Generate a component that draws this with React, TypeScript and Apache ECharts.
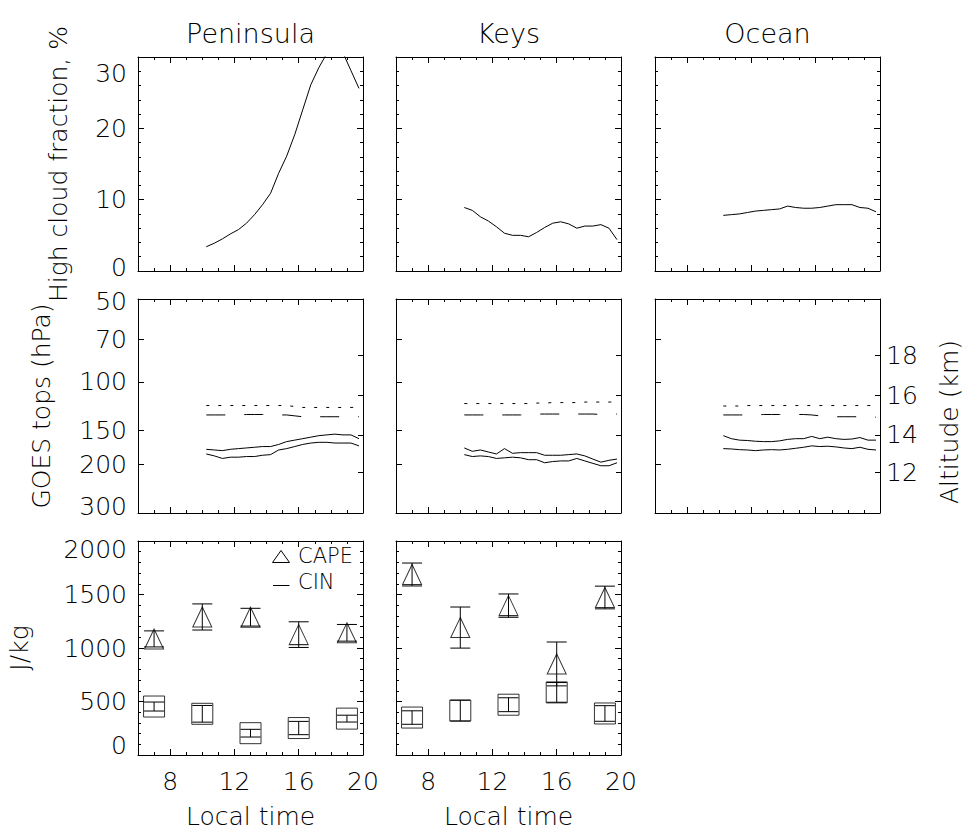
import React, { useEffect, useRef } from "react";
import * as echarts from "echarts";

// ---------------- data ----------------
const regions = ["Peninsula", "Keys", "Ocean"];
const hourTicks = [8, 12, 16, 20];
const halfHours = [10.25, 10.75, 11.25, 11.75, 12.25, 12.75, 13.25, 13.75, 14.25, 14.75, 15.25, 15.75, 16.25, 16.75, 17.25, 17.75, 18.25, 18.75, 19.25, 19.75];

// High cloud fraction (%)
const penHigh = [3.4, 3.9, 4.5, 5.2, 5.8, 6.7, 7.9, 9.3, 10.9, 13.7, 16.1, 19.1, 22.6, 26.1, 28.5, 30.5, 31.5, 30.6, 28.1, 25.6];
const keysHigh = [8.9, 8.5, 7.6, 7.0, 6.2, 5.3, 5.0, 5.0, 4.8, 5.4, 6.1, 6.7, 6.9, 6.6, 6.0, 6.3, 6.3, 6.5, 6.0, 4.4];
const oceanHigh = [7.8, 7.9, 8.0, 8.2, 8.4, 8.5, 8.6, 8.7, 9.1, 8.9, 8.8, 8.8, 8.9, 9.1, 9.3, 9.3, 9.3, 8.9, 8.8, 8.3];

// GOES tops (hPa)
const pressureTicks = [50, 70, 100, 150, 200, 300];
const altitudeKm = [12, 14, 16, 18];
const altitudePressure = [214, 156, 112, 80];

const penDotted = [122, 122, 122, 122, 122, 122, 122, 122, 122, 122, 122, 123, 124, 124, 124, 124, 124, 124, 124, 123.5];
const penDashed = [132, 132, 132, 132, 132, 131.5, 131.5, 131.5, 131.5, 132, 132, 133, 134, 134, 134, 134, 134, 134, 134, 134];
const penUpper = [176, 177, 178, 176, 175, 174, 173, 172, 172, 169, 165, 163, 161, 159, 157, 156, 155, 156, 156, 161];
const penLower = [183, 186, 190, 188, 188, 187, 187, 185, 184, 177, 175, 172, 169, 167, 166, 166, 167, 167, 167, 171];

const keysDotted = [120, 120, 120, 120, 120, 120, 120, 120, 120, 119.5, 119.5, 119, 119, 119, 119, 118.5, 118.5, 118.5, 118.5, 118.5];
const keysDashed = [132, 132, 132, 132, 132, 132, 132, 132, 132, 131, 131, 131, 131, 131, 131, 131, 131, 131.5, 131.5, 131];
const keysUpper = [174, 179, 177, 180, 183, 175, 182, 181, 181, 181, 185, 185, 185, 184, 183, 186, 191, 196, 193, 191];
const keysLower = [184, 187, 186, 187, 190, 189, 188, 189, 192, 192, 197, 195, 194, 194, 190, 194, 198, 202, 202, 197];

const oceanDotted = [122.5, 122.5, 122.5, 122, 122, 122, 122, 122, 122, 122, 122, 122, 122, 122, 122, 122, 122, 122, 122, 122];
const oceanDashed = [132, 132, 132, 132, 132, 131.5, 131.5, 131.5, 131.5, 131.5, 131.5, 132, 133, 133.5, 134, 134, 134, 134, 134.5, 134.5];
const oceanUpper = [157, 161, 163, 163.5, 164.5, 165, 165, 164, 162, 161, 161, 158, 161, 159, 161, 162, 161.5, 159.5, 163, 163];
const oceanLower = [175, 175.5, 176.5, 177, 178, 177, 176.5, 177, 176, 174.5, 173, 171, 172, 171.5, 172.5, 174, 175, 173, 176, 177];

// CAPE / CIN (J/kg)
const soundingHours = [7, 10, 13, 16, 19];
const penCape = [1085, 1290, 1288, 1125, 1142];
const penCapeSd = [75, 122, 83, 120, 78];
const penCin = [453, 385, 204, 252, 340];
const penCinSd = [42, 78, 36, 62, 32];
const keysCape = [1687, 1191, 1396, 851, 1472];
const keysCapeSd = [107, 192, 109, 205, 106];
const keysCin = [350, 415, 470, 585, 388];
const keysCinSd = [63, 97, 65, 92, 73];

// ---------------- style / layout ----------------
const FONT = "DejaVu Sans";
const FS = 25;
const INK = "#000000";
const GRID_LEFT = [138, 396, 655];
const GRID_TOP = [57, 299, 541];
const GRID_W = 225;
const GRID_H = 214;
const MAJOR_TICK = 6;
const MINOR_TICK = 3;
const CAP_HALF = 10;

const textBase: any = { fontFamily: FONT, fontSize: FS, color: INK, fontWeight: 200 };
const lineStyle = { color: INK, width: 1 };

function edgeRich(shiftMax: number, shiftMin: number) {
  const pad = (s: number) => (s >= 0 ? [2 * s, 0, 0, 0] : [0, 0, -2 * s, 0]);
  return {
    hi: { ...textBase, padding: pad(shiftMax) },
    lo: { ...textBase, padding: pad(shiftMin) },
  };
}

const log10 = (v: number) => Math.log10(v);
const pairs = (xs: number[], ys: number[], f: (v: number) => number = (v) => v) => xs.map((x, i) => [x, f(ys[i])]);

function buildOption() {
  const grids: any[] = [];
  const xAxes: any[] = [];
  const yAxes: any[] = [];
  const series: any[] = [];

  const mkXMajor = (gi: number, pos: string, labels: boolean) => ({
    type: "value", gridIndex: gi, position: pos, min: 6, max: 20, interval: 2,
    axisLine: { show: true, onZero: false, lineStyle },
    axisTick: { show: true, inside: true, length: MAJOR_TICK, customValues: hourTicks, lineStyle },
    minorTick: { show: false },
    axisLabel: { show: labels, customValues: hourTicks, margin: 14, ...textBase },
    splitLine: { show: false },
    name: labels ? "Local time" : "",
    nameLocation: "middle", nameGap: 49, nameTextStyle: textBase,
  });
  const mkXMinor = (gi: number, pos: string) => ({
    type: "value", gridIndex: gi, position: pos, min: 6, max: 20, interval: 1,
    axisLine: { show: false, onZero: false },
    axisTick: { show: true, inside: true, length: MINOR_TICK, lineStyle },
    axisLabel: { show: false },
    splitLine: { show: false },
  });

  const mkYLinear = (gi: number, pos: string, min: number, max: number, interval: number, labels: boolean, name: string, nameGap: number, shiftMax: number, shiftMin: number) => ({
    type: "value", gridIndex: gi, position: pos, min, max, interval,
    axisLine: { show: true, onZero: false, lineStyle },
    axisTick: { show: true, inside: true, length: MAJOR_TICK, lineStyle },
    minorTick: { show: true, splitNumber: 5, length: MINOR_TICK, lineStyle },
    axisLabel: {
      show: labels, margin: 11, ...textBase,
      formatter: (v: number) => (v === max ? `{hi|${v}}` : v === min ? `{lo|${v}}` : `${v}`),
      rich: edgeRich(shiftMax, shiftMin),
    },
    splitLine: { show: false }, minorSplitLine: { show: false },
    name, nameLocation: "middle", nameRotate: 90, nameGap, nameTextStyle: textBase,
  });

  const pMin = log10(pressureTicks[0]);
  const pMax = log10(pressureTicks[pressureTicks.length - 1]);
  const mkYPressure = (gi: number, labels: boolean) => ({
    type: "value", gridIndex: gi, position: "left", min: pMin, max: pMax, inverse: true,
    axisLine: { show: true, onZero: false, lineStyle },
    axisTick: { show: true, inside: true, length: MAJOR_TICK, customValues: pressureTicks.map(log10), lineStyle },
    axisLabel: {
      show: labels, margin: 11, ...textBase, customValues: pressureTicks.map(log10),
      formatter: (v: number) => {
        const p = Math.round(Math.pow(10, v));
        if (p === pressureTicks[0]) return `{hi|${p}}`;
        if (p === pressureTicks[pressureTicks.length - 1]) return `{lo|${p}}`;
        return `${p}`;
      },
      rich: edgeRich(2.5, -7),
    },
    splitLine: { show: false },
    name: labels ? "GOES tops (hPa)" : "", nameLocation: "middle", nameRotate: 90, nameGap: 84, nameTextStyle: textBase,
  });
  const mkYAltitude = (gi: number, labels: boolean) => ({
    type: "value", gridIndex: gi, position: "right", min: pMin, max: pMax, inverse: true,
    axisLine: { show: true, onZero: false, lineStyle },
    axisTick: { show: true, inside: true, length: MAJOR_TICK - 1, customValues: altitudePressure.map(log10), lineStyle },
    axisLabel: {
      show: labels, margin: 6, ...textBase, customValues: altitudePressure.map(log10),
      formatter: (v: number) => {
        let best = 0;
        altitudePressure.forEach((p, i) => { if (Math.abs(log10(p) - v) < Math.abs(log10(altitudePressure[best]) - v)) best = i; });
        return `${altitudeKm[best]}`;
      },
    },
    splitLine: { show: false },
    name: labels ? "Altitude (km)" : "", nameLocation: "middle", nameRotate: 90, nameGap: 57,
    nameTextStyle: { ...textBase, padding: [0, 32, 0, 0] },
  });

  const highCloud = [penHigh, keysHigh, oceanHigh];
  const tops = [
    [penDotted, penDashed, penUpper, penLower],
    [keysDotted, keysDashed, keysUpper, keysLower],
    [oceanDotted, oceanDashed, oceanUpper, oceanLower],
  ];
  const cape = [[penCape, penCapeSd, penCin, penCinSd], [keysCape, keysCapeSd, keysCin, keysCinSd]];

  const errorBars = (xi: number, yi: number, name: string, vals: number[], sds: number[]) => ({
    type: "custom", name, xAxisIndex: xi, yAxisIndex: yi, silent: true,
    encode: { x: 0, y: 1 },
    data: soundingHours.map((h, i) => [h, vals[i], sds[i]]),
    renderItem: (_p: any, api: any) => {
      const x = api.value(0), y = api.value(1), e = api.value(2);
      const t = api.coord([x, y + e]);
      const b = api.coord([x, y - e]);
      const st = { stroke: INK, lineWidth: 1, fill: null };
      return {
        type: "group",
        children: [
          { type: "line", shape: { x1: t[0], y1: t[1], x2: b[0], y2: b[1] }, style: st },
          { type: "line", shape: { x1: t[0] - CAP_HALF, y1: t[1], x2: t[0] + CAP_HALF, y2: t[1] }, style: st },
          { type: "line", shape: { x1: b[0] - CAP_HALF, y1: b[1], x2: b[0] + CAP_HALF, y2: b[1] }, style: st },
        ],
      };
    },
  });

  for (let row = 0; row < 3; row++) {
    for (let col = 0; col < 3; col++) {
      if (row === 2 && col === 2) continue;
      const gi = grids.length;
      grids.push({ left: GRID_LEFT[col], top: GRID_TOP[row], width: GRID_W, height: GRID_H, containLabel: false });
      const xi = xAxes.length;
      xAxes.push(mkXMajor(gi, "bottom", row === 2));
      xAxes.push(mkXMinor(gi, "bottom"));
      xAxes.push(mkXMajor(gi, "top", false));
      xAxes.push(mkXMinor(gi, "top"));
      const yi = yAxes.length;
      if (row === 0) {
        yAxes.push(mkYLinear(gi, "left", 0, 30, 10, col === 0, col === 0 ? "High cloud fraction, %" : "", 67, 16.5, -4));
        yAxes.push(mkYLinear(gi, "right", 0, 30, 10, false, "", 0, 0, 0));
        series.push({
          type: "line", name: `${regions[col]} high cloud`, xAxisIndex: xi, yAxisIndex: yi,
          data: pairs(halfHours, highCloud[col]), showSymbol: false, clip: true,
          lineStyle: { color: INK, width: 1 }, itemStyle: { color: INK }, silent: true,
        });
      } else if (row === 1) {
        yAxes.push(mkYPressure(gi, col === 0));
        yAxes.push(mkYAltitude(gi, col === 2));
        const styles: any[] = [[3, 9], [19, 19], "solid", "solid"];
        const names = ["top dotted", "top dashed", "upper", "lower"];
        tops[col].forEach((arr, k) => {
          series.push({
            type: "line", name: `${regions[col]} ${names[k]}`, xAxisIndex: xi, yAxisIndex: yi,
            data: pairs(halfHours, arr, log10), showSymbol: false, clip: true,
            lineStyle: { color: INK, width: 1, type: styles[k] }, itemStyle: { color: INK }, silent: true,
          });
        });
      } else {
        yAxes.push(mkYLinear(gi, "left", 0, 2000, 500, col === 0, col === 0 ? "J/kg" : "", 106, 8, -10));
        yAxes.push(mkYLinear(gi, "right", 0, 2000, 500, false, "", 0, 0, 0));
        const [cv, cs, nv, ns] = cape[col];
        series.push({
          type: "scatter", name: "CAPE", xAxisIndex: xi, yAxisIndex: yi,
          data: pairs(soundingHours, cv), symbol: "triangle", symbolSize: [19, 20],
          itemStyle: { color: "rgba(0,0,0,0)", borderColor: INK, borderWidth: 1 }, silent: true,
        });
        series.push(errorBars(xi, yi, "CAPE sd", cv, cs));
        series.push({
          type: "scatter", name: "CIN", xAxisIndex: xi, yAxisIndex: yi,
          data: pairs(soundingHours, nv), symbol: "rect", symbolSize: [21, 21],
          itemStyle: { color: "rgba(0,0,0,0)", borderColor: INK, borderWidth: 1 }, silent: true,
        });
        series.push(errorBars(xi, yi, "CIN sd", nv, ns));
      }
    }
  }

  const titles = regions.map((r, c) => ({
    text: r, left: GRID_LEFT[c] + GRID_W / 2, top: 20, textAlign: "center", padding: 0,
    textStyle: { ...textBase, fontSize: 27 },
  }));

  const legendFont = `200 21px "${FONT}"`;
  const graphic = [
    { type: "polygon", shape: { points: [[281, 550.5], [289.5, 562.5], [272.5, 562.5]] }, style: { stroke: INK, fill: null, lineWidth: 1 }, silent: true },
    { type: "line", shape: { x1: 273, y1: 585.5, x2: 289.5, y2: 585.5 }, style: { stroke: INK, lineWidth: 1 }, silent: true },
    { type: "text", x: 298, y: 556, style: { text: "CAPE", font: legendFont, fill: INK, verticalAlign: "middle", align: "left" }, silent: true },
    { type: "text", x: 298, y: 581.5, style: { text: "CIN", font: legendFont, fill: INK, verticalAlign: "middle", align: "left" }, silent: true },
  ];

  return {
    animation: false,
    backgroundColor: "#ffffff",
    textStyle: { fontFamily: FONT },
    title: titles,
    grid: grids,
    xAxis: xAxes,
    yAxis: yAxes,
    series,
    graphic,
  };
}

export default function App() {
  const ref = useRef<HTMLDivElement>(null);
  useEffect(() => {
    const chart = echarts.init(ref.current as HTMLDivElement, null, { renderer: "svg" });
    chart.setOption(buildOption() as any);
    return () => chart.dispose();
  }, []);
  return <div ref={ref} style={{ position: "absolute", left: 0, top: 0, width: 971, height: 834, background: "#fff" }} />;
}
